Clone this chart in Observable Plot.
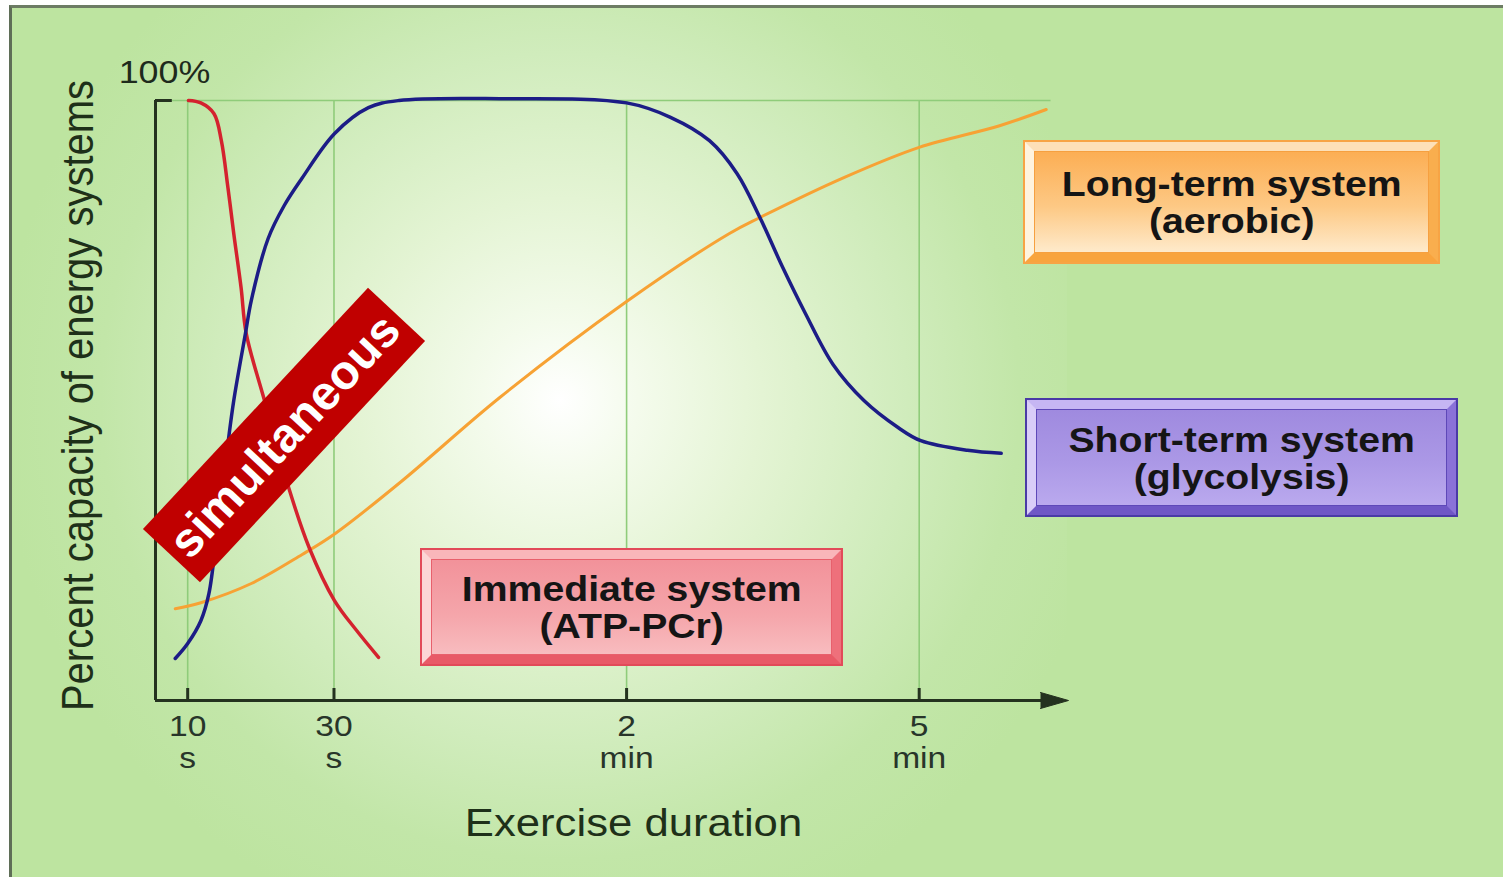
<!DOCTYPE html>
<html>
<head>
<meta charset="utf-8">
<script src="https://cdn.jsdelivr.net/npm/d3@7"></script>
<script src="https://cdn.jsdelivr.net/npm/@observablehq/plot@0.6"></script>
<style>
  html, body { margin: 0; padding: 0; background: #ffffff; }
  #wrap { position: relative; width: 1503px; height: 877px; overflow: hidden;
          font-family: "Liberation Sans", Arial, Helvetica, sans-serif; }
  #bg { position: absolute; left: 9px; top: 5px; right: 0; bottom: 0; background: #bde4a0;
        border-left: 3px solid #5f6e57; border-top: 3px solid #6d7c64; }
  #glow { position: absolute; left: 12px; top: 8px; width: 1055px; height: 869px;
          background: radial-gradient(circle 560px at 548px 392px,
            #ffffff 0%, #f4fbec 14%, #e4f4d4 36%, #d0ecbc 62%, #c2e6a8 82%, #bde4a0 100%); }
  #chart { position: absolute; left: 0; top: 0; }
  .box { position: absolute; box-sizing: border-box; border-style: solid; border-width: 9px; }
  .face { position: absolute; inset: 0; box-sizing: border-box; border: 1.5px solid;
          display: flex; align-items: center; justify-content: center; text-align: center; }
  .face span { display: inline-block; transform: scaleX(1.12); font-weight: bold; font-size: 35px;
               line-height: 37px; color: #151515; white-space: pre; }
  #imm { left: 422px; top: 550px; width: 419px; height: 114px;
         border-color: #f9b6ba #ee707b #e85a67 #fcd6d6; box-shadow: 0 0 0 2px #e24a59; }
  #imm .face { border-color: #e8606c; background: linear-gradient(#f2929a, #f5a6ab 60%, #f8bcbf); }
  #long { left: 1025px; top: 142px; width: 413px; height: 120px;
          border-color: #fde0b8 #f9ae4e #f8a43e #fff3de; box-shadow: 0 0 0 2px #f7a445; }
  #long .face { border-color: #f6a040; background: linear-gradient(#fcae54, #fdc985 55%, #feeacb); }
  #short { left: 1027px; top: 400px; width: 429px; height: 115px;
           border-color: #c6b6f3 #8a72d8 #6f57c6 #d9cdf8; box-shadow: 0 0 0 2px #4a3aa6; }
  #short .face { border-color: #5e48b8; background: linear-gradient(#9f8adf, #ab98e6 55%, #baa9ee); }
  #banner { position: absolute; left: 119px; top: 396px; width: 330px; height: 78px;
            background: #c00000; transform: rotate(-47deg); transform-origin: 165px 39px;
            display: flex; align-items: center; justify-content: center;
            color: #ffffff; font-weight: bold; font-size: 48px; letter-spacing: 0.3px; }
</style>
</head>
<body>
<div id="wrap">
  <div id="bg"></div>
  <div id="glow"></div>
  <div id="chart"></div>
  <div class="box" id="imm"><div class="face"><span>Immediate system
(ATP-PCr)</span></div></div>
  <div class="box" id="long"><div class="face"><span>Long-term system
(aerobic)</span></div></div>
  <div class="box" id="short"><div class="face"><span>Short-term system
(glycolysis)</span></div></div>
  <div id="banner">simultaneous</div>
</div>
<script>
// ---- Data (exercise duration in seconds, percent capacity) ----
const tickSeconds = [10, 30, 120, 300];
const tickLabels = ["10\ns", "30\ns", "2\nmin", "5\nmin"];

const immediateSec = [10.1, 11.8, 13.6, 14.6, 15.5, 16.3, 17.3, 18, 20.5, 23.8, 26.6, 30.1, 36.9, 43.7];
const immediatePct = [100, 99.6, 97.8, 93.3, 85.5, 77.8, 68.8, 61.2, 50, 35.5, 25.5, 16.7, 11.7, 7.2];

const shortSec = [8.3, 10, 11.8, 12.9, 14.0, 15.5, 16.3, 17.9, 18.7, 21, 23.2, 25.6, 30.2, 40.6, 50, 81, 120, 147, 171, 188, 202, 216, 230, 247, 266, 287, 301, 330, 351];
const shortPct = [7.0, 9.5, 13.3, 17.8, 28, 42.8, 50, 61.2, 66.7, 77.0, 82.5, 87, 94.5, 98.8, 100, 100.3, 99.6, 97.2, 93.3, 87.8, 80.5, 72.2, 64.5, 56, 50, 45.5, 43.3, 41.7, 41.2];

const longSec = [8.3, 11.8, 18.7, 25.6, 30.3, 50.7, 81, 120, 183, 202, 254, 300, 350, 379];
const longPct = [15.3, 16.3, 19.5, 24.3, 27.8, 36.5, 50.5, 66.5, 77.8, 80.5, 87.2, 92.2, 95.8, 98.5];

const yTop = 100;
const yLabel = "Percent capacity of energy systems";
const xLabel = "Exercise duration";
const topLabel = "100%";

// ---- Build tables ----
const toRows = (secs, pcts, system) => secs.map((s, i) => ({sec: s, pct: pcts[i], system}));
const immediate = toRows(immediateSec, immediatePct, "Immediate");
const shortTerm = toRows(shortSec, shortPct, "Short-term");
const longTerm = toRows(longSec, longPct, "Long-term");

// The original figure's duration axis is non-uniform: 10 s is half a step,
// then 30 s, 2 min and 5 min are equally spaced steps.
const axisStart = 5.6, axisEnd = 391, gridStart = 7.9, gridEnd = 382;
const durationStep = d3.scaleLinear()
  .domain([axisStart, 10, 30, 120, 300, axisEnd])
  .range([0.39, 0.5, 1, 2, 3, 3.5]);

const dark = "#24321f";
const grid = "#8fcc7a";

function buildMarks(useSpike) {
  const arrowHead = useSpike
    ? Plot.vector([axisEnd], {x: d => d, y: 0, length: 28, r: 8, rotate: 90,
        shape: "spike", anchor: "start", dx: -25, fill: dark, stroke: dark, strokeWidth: 1})
    : Plot.dot([axisEnd], {x: d => d, y: 0, symbol: "triangle", rotate: 90,
        r: 9, dx: -6, fill: dark, stroke: "none"});
  return [
    // gridlines
    Plot.ruleX(tickSeconds, {x: d => d, y1: 0, y2: yTop, stroke: grid, strokeWidth: 1.6}),
    Plot.ruleY([yTop], {x1: gridStart, x2: gridEnd, stroke: grid, strokeWidth: 1.6}),
    // curves
    Plot.line(longTerm, {x: "sec", y: "pct", stroke: "#f7a234", strokeWidth: 3, curve: "catmull-rom"}),
    Plot.line(immediate, {x: "sec", y: "pct", stroke: "#d4222e", strokeWidth: 3.5, curve: "catmull-rom", strokeLinecap: "round"}),
    Plot.line(shortTerm, {x: "sec", y: "pct", stroke: "#1c1c86", strokeWidth: 3.5, curve: "catmull-rom", strokeLinecap: "round"}),
    // axes
    Plot.ruleX([axisStart], {x: d => d, y1: 0, y2: yTop, stroke: dark, strokeWidth: 3}),
    Plot.ruleY([yTop], {x1: axisStart, x2: gridStart, stroke: dark, strokeWidth: 3}),
    Plot.ruleY([0], {x1: axisStart, x2: 380, stroke: dark, strokeWidth: 3}),
    arrowHead,
    Plot.ruleX(tickSeconds, {x: d => d, y1: 0, y2: 2, stroke: dark, strokeWidth: 3}),
    Plot.text(tickSeconds, {x: d => d, y: 0, text: (d, i) => tickLabels[i], dy: 41,
      fontSize: 30, lineHeight: 1.07, lineAnchor: "middle", fill: "#28352a"}),
    Plot.text([topLabel], {frameAnchor: "top-left", textAnchor: "middle", lineAnchor: "middle",
      dx: 9, dy: -28, fontSize: 32, fill: "#1e2a1c"}),
    Plot.text([yLabel], {frameAnchor: "left", textAnchor: "middle", lineAnchor: "middle",
      rotate: -90, dx: -77, dy: -5, fontSize: 40, fill: "#1e3019"}),
    Plot.text([xLabel], {frameAnchor: "bottom", textAnchor: "middle", lineAnchor: "middle",
      dx: 23, dy: 123, fontSize: 39, fill: "#1e3019"})
  ];
}

function make(useSpike) {
  return Plot.plot({
    width: 1503,
    height: 877,
    marginLeft: 155,
    marginRight: 438,
    marginTop: 100,
    marginBottom: 177,
    style: {background: "transparent", fontFamily: "'Liberation Sans', Arial, Helvetica, sans-serif", overflow: "visible"},
    x: {type: "linear", transform: durationStep, domain: [0.39, 3.5], axis: null},
    y: {domain: [0, 100], axis: null},
    marks: buildMarks(useSpike)
  });
}

let chart;
try { chart = make(true); } catch (e) { chart = make(false); }

// the original figure's lettering is slightly stretched horizontally
chart.querySelectorAll("text").forEach(t => {
  const tr = t.getAttribute("transform");
  if (tr) {
    t.setAttribute("transform", tr + (tr.includes("rotate") ? " scale(1,1.12)" : " scale(1.12,1)"));
  } else {
    const x = +t.getAttribute("x") || 0, y = +t.getAttribute("y") || 0;
    t.setAttribute("transform", `translate(${x},${y}) scale(1.12,1) translate(${-x},${-y})`);
  }
});

document.getElementById("chart").appendChild(chart);
</script>
</body>
</html>
